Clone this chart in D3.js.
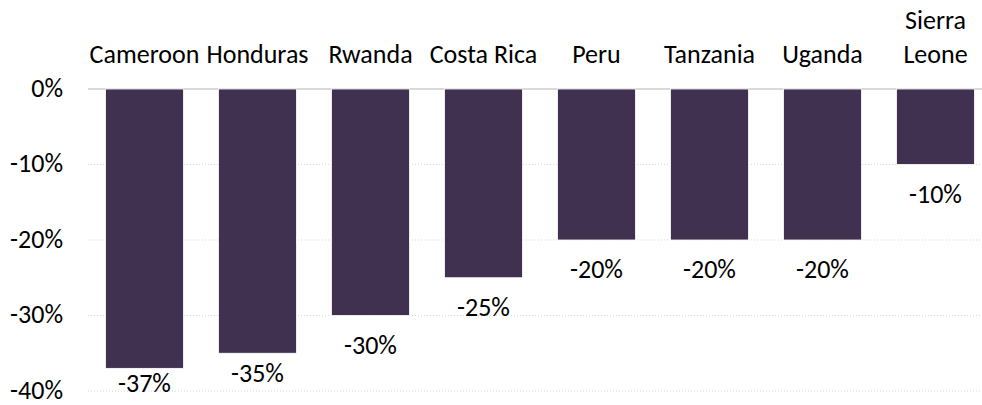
<!DOCTYPE html>
<html>
<head>
<meta charset="utf-8">
<script src="https://cdn.jsdelivr.net/npm/d3@7"></script>
<style>
  body { margin: 0; background: #fff; }
  svg text { font-family: Carlito, "Open Sans", sans-serif; fill: #000; }
</style>
</head>
<body>
<svg id="chart" width="982" height="405"></svg>
<script>
// data
var countries = ["Cameroon", "Honduras", "Rwanda", "Costa Rica", "Peru", "Tanzania", "Uganda", "Sierra Leone"];
var changes = [-37, -35, -30, -25, -20, -20, -20, -10];
var yTicks = [0, -10, -20, -30, -40];

var svg = d3.select("#chart");
var fontSize = 26;

var x = d3.scaleBand()
    .domain(countries)
    .range([88, 992])
    .paddingInner(0.31)
    .paddingOuter(0.155);

var y = d3.scaleLinear()
    .domain([-40, 0])
    .range([391, 89]);

// gridlines
svg.append("g").selectAll("line")
    .data(yTicks)
    .join("line")
    .attr("x1", 88)
    .attr("x2", 982)
    .attr("y1", function(d) { return y(d); })
    .attr("y2", function(d) { return y(d); })
    .attr("stroke", "#d9d9d9")
    .attr("stroke-width", function(d) { return d === 0 ? 2 : 1; })
    .attr("stroke-dasharray", function(d) { return d === 0 ? null : "1,2"; });

// y axis labels
var yAxis = d3.axisLeft(y)
    .tickValues(yTicks)
    .tickFormat(function(d) { return d + "%"; })
    .tickSize(0)
    .tickPadding(0);

svg.append("g")
    .attr("transform", "translate(63,0)")
    .call(yAxis)
    .call(function(g) { g.select(".domain").remove(); })
    .selectAll("text")
    .attr("font-size", fontSize)
    .attr("font-family", null)
    .attr("dy", "0.28em");

// bars
svg.append("g").selectAll("rect")
    .data(changes)
    .join("rect")
    .attr("x", function(d, i) { return x(countries[i]); })
    .attr("y", y(0))
    .attr("width", x.bandwidth())
    .attr("height", function(d) { return y(d) - y(0); })
    .attr("fill", "#403151")
    .attr("stroke", "#ffffff")
    .attr("stroke-width", 0.8);

// value labels below bars (pulled up near the bottom edge)
svg.append("g").selectAll("text")
    .data(changes)
    .join("text")
    .attr("x", function(d, i) { return x(countries[i]) + x.bandwidth() / 2; })
    .attr("y", function(d) {
        var ly = y(d) + 38;
        if (ly > 385) ly = d < -36 ? 392 : y(d) + 29;
        return ly;
    })
    .attr("text-anchor", "middle")
    .attr("font-size", fontSize)
    .text(function(d) { return d + "%"; });

// category labels on top, wrapping long names
var cats = svg.append("g").selectAll("text")
    .data(countries)
    .join("text")
    .attr("x", function(d) { return x(d) + x.bandwidth() / 2; })
    .attr("y", 63)
    .attr("text-anchor", "middle")
    .attr("font-size", fontSize);

cats.each(function(d) {
    var t = d3.select(this);
    var words = d.split(" ");
    var cx = x(d) + x.bandwidth() / 2;
    if (d.length > 10) {
        words.forEach(function(w, i) {
            t.append("tspan")
                .attr("x", cx)
                .attr("y", 63 - (words.length - 1 - i) * 34)
                .text(w);
        });
    } else {
        t.text(d);
    }
});
</script>
</body>
</html>
